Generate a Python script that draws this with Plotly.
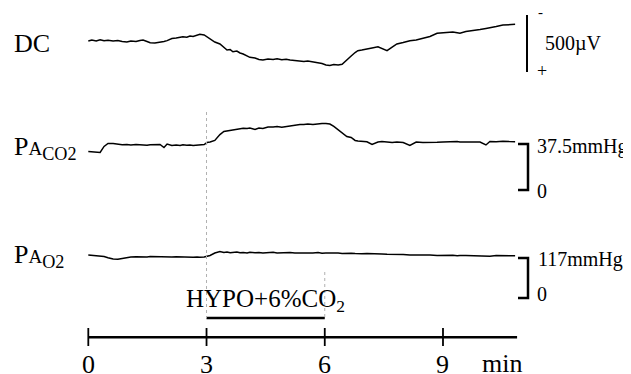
import plotly.graph_objects as go

# ---------------- data ----------------
t_min = [0.00, 0.09, 0.20, 0.30, 0.40, 0.50, 0.63, 0.75, 0.86, 0.98,
         1.08, 1.21, 1.31, 1.39, 1.49, 1.57, 1.69, 1.82, 1.92, 2.00,
         2.12, 2.23, 2.33, 2.40, 2.50, 2.58, 2.66, 2.76, 2.83, 2.94,
         3.01, 3.09, 3.21, 3.34, 3.44, 3.52, 3.60, 3.67, 3.77, 3.85,
         3.93, 4.03, 4.10, 4.23, 4.33, 4.43, 4.56, 4.69, 4.79, 4.91,
         5.02, 5.12, 5.24, 5.37, 5.47, 5.57, 5.70, 5.83, 5.93, 6.03,
         6.13, 6.23, 6.34, 6.44, 6.51, 6.56, 6.67, 6.77, 6.84, 6.94,
         7.07, 7.20, 7.35, 7.45, 7.58, 7.71, 7.83, 7.99, 8.16, 8.32,
         8.49, 8.67, 8.85, 9.00, 9.13, 9.25, 9.36, 9.43, 9.58, 9.76,
         9.94, 10.09, 10.19, 10.35, 10.52, 10.68, 10.83]

# DC potential, microvolts relative to start (positive = downward deflection)
dc_uv = [0, -9, 0, -11, -2, -7, 0, -4, 4, 9,
         0, 5, -4, -9, 4, 15, 18, 13, 4, -3,
         -22, -26, -31, -38, -33, -44, -39, -53, -59, -53,
         -35, -15, 9, 26, 57, 79, 75, 94, 88, 105,
         114, 127, 143, 149, 162, 167, 158, 162, 155, 165,
         160, 167, 171, 173, 180, 175, 182, 193, 197, 211,
         215, 206, 211, 204, 184, 167, 132, 101, 85, 79,
         73, 61, 50, 66, 85, 53, 26, 13, -3, -9,
         -24, -39, -68, -70, -75, -79, -72, -68, -83, -90,
         -101, -110, -114, -127, -140, -142, -146]

# alveolar CO2 pressure, mmHg
paco2_mmhg = [31.4, 31.2, 31.0, 30.6, 35.5, 37.9, 37.9, 37.1, 36.8, 37.1,
              36.7, 37.0, 36.7, 37.0, 36.5, 36.8, 36.7, 37.1, 34.6, 37.5,
              36.3, 36.7, 36.3, 36.8, 36.4, 36.7, 36.3, 36.5, 36.7, 37.1,
              38.7, 39.1, 40.4, 45.2, 47.7, 48.1, 48.5, 49.3, 49.9, 49.7,
              50.3, 50.1, 50.5, 49.3, 50.5, 50.1, 51.4, 51.4, 51.8, 51.2,
              51.8, 52.2, 53.0, 53.4, 53.4, 53.8, 53.4, 54.0, 54.2, 54.2,
              53.8, 51.8, 48.9, 46.1, 44.4, 43.6, 42.8, 40.4, 39.9, 39.5,
              39.3, 37.1, 39.1, 39.5, 39.1, 38.7, 39.1, 38.7, 36.3, 39.1,
              38.7, 39.1, 38.9, 39.1, 39.3, 38.9, 39.5, 39.1, 39.0, 39.3,
              39.1, 36.7, 39.5, 39.3, 39.8, 39.5, 39.4]

# alveolar O2 pressure, mmHg
pao2_mmhg = [125.8, 125.2, 124.3, 123.4, 121.4, 117.6, 114.1, 113.2, 115.5, 118.5,
             119.9, 120.5, 119.9, 120.8, 120.2, 121.1, 120.5, 121.4, 120.2, 120.8,
             119.9, 120.5, 119.9, 120.8, 119.6, 120.2, 119.3, 119.9, 119.0, 119.9,
             121.4, 124.3, 131.6, 136.0, 133.1, 134.6, 132.2, 133.7, 134.6, 132.2,
             133.4, 131.6, 134.0, 132.2, 133.1, 131.6, 132.8, 133.7, 131.6, 132.8,
             131.9, 133.1, 131.6, 131.0, 132.2, 130.7, 131.6, 132.8, 131.0, 131.6,
             132.2, 130.7, 131.6, 130.5, 131.0, 130.2, 131.0, 129.9, 130.5, 129.3,
             130.2, 129.0, 129.6, 128.7, 127.8, 128.1, 126.9, 127.2, 126.1, 126.7,
             125.5, 126.1, 124.6, 125.2, 124.3, 124.9, 123.7, 124.6, 124.0, 123.1,
             124.3, 123.1, 122.3, 124.0, 123.4, 124.6, 123.7]

time_ticks = [0, 3, 6, 9]
time_tick_labels = ["0", "3", "6", "9"]
time_axis_end = 10.88
hypo_start, hypo_end = 3, 6
hypo_label = "HYPO+6%CO<sub>2</sub>"
dc_scale_uv = 500
paco2_scale = 37.5
pao2_scale = 117

# ---------------- layout helpers ----------------
# the page body has an 8px margin, so the figure starts at page pixel (8, 8)
OFF = 8
W, H = 623, 366
X0_PX, PX_PER_MIN = 88.3, 39.41
FONT = "Liberation Serif"


def py(p):
    """page pixel row -> paper y"""
    return 1 - (p - OFF) / H


def pxp(p):
    """page pixel column -> paper x"""
    return (p - OFF) / W


def px_to_t(p):
    return (p - X0_PX) / PX_PER_MIN


def yrange(px_at_zero, px_per_unit):
    return [(px_at_zero - (OFF + H)) / px_per_unit, (px_at_zero - OFF) / px_per_unit]


x_range = [px_to_t(OFF), px_to_t(OFF + W)]
dc_range = yrange(41, -57 / dc_scale_uv)
co2_range = yrange(190, 46 / paco2_scale)
o2_range = yrange(298, 40 / pao2_scale)

line = dict(color="black", width=1.5)
fig = go.Figure()
fig.add_trace(go.Scatter(x=t_min, y=dc_uv, mode="lines", line=line, yaxis="y"))
fig.add_trace(go.Scatter(x=t_min, y=paco2_mmhg, mode="lines", line=line, yaxis="y2"))
fig.add_trace(go.Scatter(x=t_min, y=pao2_mmhg, mode="lines", line=line, yaxis="y3"))

# scale bars
dc_bar_top = -228
bar_t = px_to_t(527)
fig.add_trace(go.Scatter(x=[bar_t, bar_t], y=[dc_bar_top, dc_bar_top + dc_scale_uv],
                         mode="lines", line=dict(color="black", width=2), yaxis="y"))
bl, br = px_to_t(518), px_to_t(528)
fig.add_trace(go.Scatter(x=[bl, br, br, bl], y=[paco2_scale, paco2_scale, 0, 0],
                         mode="lines", line=dict(color="black", width=2.5), yaxis="y2"))
fig.add_trace(go.Scatter(x=[bl, br, br, bl], y=[pao2_scale, pao2_scale, 0, 0],
                         mode="lines", line=dict(color="black", width=2.5), yaxis="y3"))

shapes = []
# time axis
ax_y = py(337.3)
shapes.append(dict(type="line", xref="x", yref="paper", x0=0, x1=time_axis_end,
                   y0=ax_y, y1=ax_y, line=dict(color="black", width=2.5)))
for tv in time_ticks:
    shapes.append(dict(type="line", xref="x", yref="paper", x0=tv, x1=tv,
                       y0=py(328), y1=py(346), line=dict(color="black", width=1.8)))
# stimulus bar
shapes.append(dict(type="line", xref="x", yref="paper", x0=hypo_start, x1=hypo_end,
                   y0=py(318), y1=py(318), line=dict(color="black", width=2.5)))
# faint dotted markers
shapes.append(dict(type="line", xref="x", yref="paper", x0=hypo_start, x1=hypo_start,
                   y0=py(112), y1=py(318), line=dict(color="#b0b0b0", width=1, dash="dot")))
shapes.append(dict(type="line", xref="x", yref="paper", x0=hypo_end, x1=hypo_end,
                   y0=py(272), y1=py(318), line=dict(color="#b0b0b0", width=1, dash="dot")))

ann = []


def text(x, y, s, size, xanchor="left", xref="paper"):
    ann.append(dict(x=x, y=y, xref=xref, yref="paper", text=s, showarrow=False,
                    xanchor=xanchor, yanchor="middle",
                    font=dict(family=FONT, size=size, color="black")))


text(pxp(12), py(43), "DC", 26)
text(pxp(12), py(148), "P<span style='font-size:19px'>A</span><sub>CO2</sub>", 26)
text(pxp(12), py(256), "P<span style='font-size:19px'>A</span><sub>O2</sub>", 26)

for tv, lab in zip(time_ticks, time_tick_labels):
    text(tv, py(364), lab, 26, xanchor="center", xref="x")
text(pxp(480), py(363), "min", 26)
text((hypo_start + hypo_end) / 2, py(300), hypo_label, 25, xanchor="center", xref="x")

text(pxp(536), py(12), "-", 15)
text(pxp(535), py(71), "+", 18)
text(pxp(543), py(43), "500µV", 20)
text(pxp(535), py(146), "37.5mmHg", 20)
text(pxp(535), py(191), "0", 20)
text(pxp(536), py(259), "117mmHg", 20)
text(pxp(535), py(294), "0", 20)

hidden = dict(visible=False, showgrid=False, zeroline=False, domain=[0, 1])
fig.update_layout(
    width=W, height=H, margin=dict(l=0, r=0, t=0, b=0),
    paper_bgcolor="white", plot_bgcolor="white", showlegend=False,
    hovermode=False,
    xaxis=dict(range=x_range, visible=False, showgrid=False, zeroline=False),
    yaxis=dict(range=dc_range, **hidden),
    yaxis2=dict(range=co2_range, overlaying="y", **hidden),
    yaxis3=dict(range=o2_range, overlaying="y", **hidden),
    shapes=shapes, annotations=ann,
)

fig.write_html("out.html")
